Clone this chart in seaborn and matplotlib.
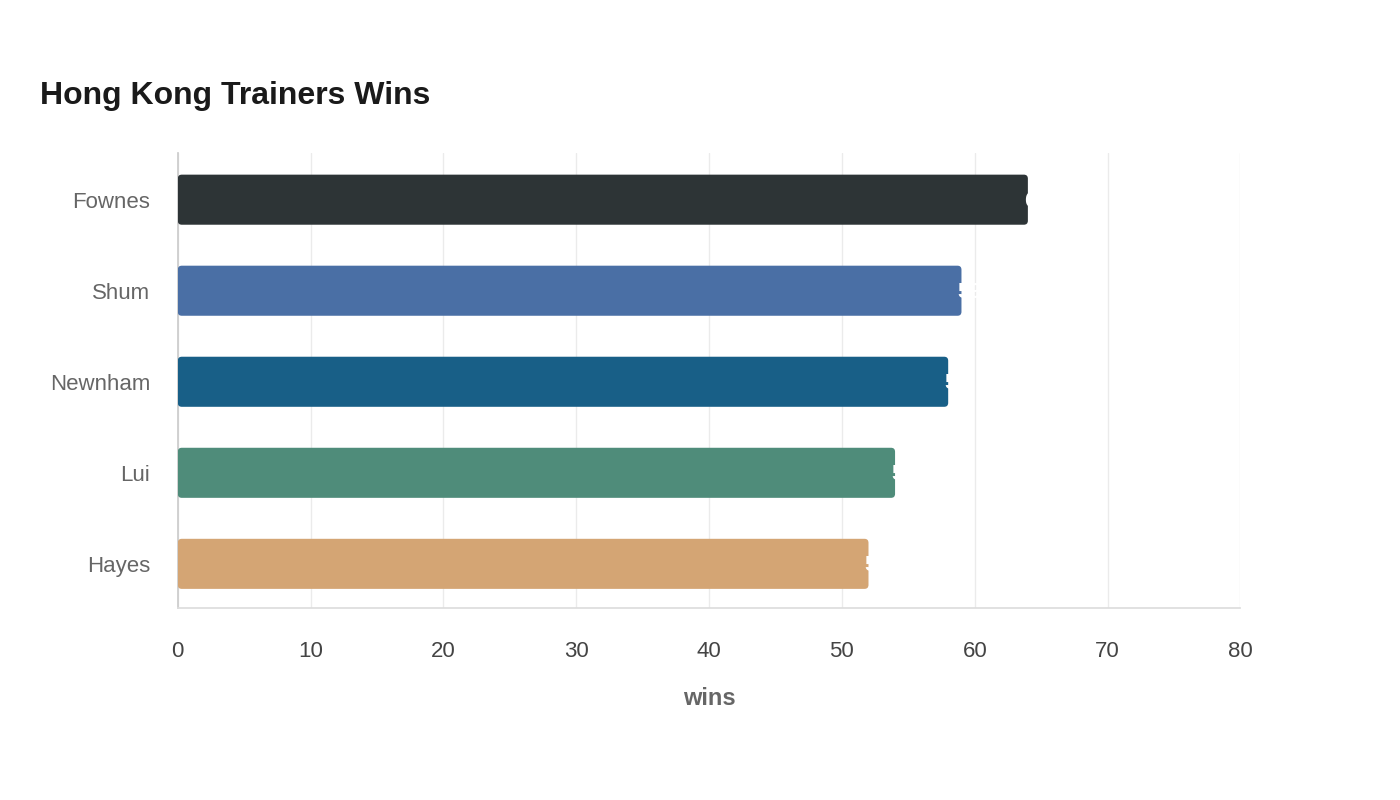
import matplotlib
matplotlib.use('Agg')
import matplotlib.pyplot as plt
import seaborn as sns
import pandas as pd
from matplotlib.patches import FancyBboxPatch

trainers = ['Fownes', 'Shum', 'Newnham', 'Lui', 'Hayes']
wins = [64, 59, 58, 54, 52]
colors = ['#2d3436', '#4a6fa5', '#185f87', '#4f8c7a', '#d4a574']

df = pd.DataFrame({'trainer': trainers, 'wins': wins})

sns.set_theme(style='white')
plt.rcParams['font.family'] = ['Liberation Sans', 'DejaVu Sans']

fig = plt.figure(figsize=(14, 8), dpi=100)
ax = fig.add_axes([0.127, 0.24, 0.759, 0.569])

sns.barplot(data=df, x='wins', y='trainer', hue='trainer', palette=colors,
            width=0.55, legend=False, ax=ax, zorder=3)

# rounded corners on bars
for patch, c in zip(list(ax.patches), colors):
    x0, y0 = patch.get_x(), patch.get_y()
    w, h = patch.get_width(), patch.get_height()
    patch.remove()
    fb = FancyBboxPatch((x0, y0), w, h,
                        boxstyle='round,pad=0,rounding_size=0.3',
                        mutation_aspect=0.147, facecolor=c, edgecolor='none',
                        zorder=3)
    ax.add_patch(fb)

# value labels (white, start at bar end)
for i, v in enumerate(wins):
    ax.annotate(f'{v}', xy=(v, i), xytext=(-3, -1), textcoords='offset points',
                ha='left', va='center', color='white', fontsize=16,
                fontweight='bold', zorder=4)

ax.set_xlim(0, 80)
ax.set_ylim(4.485, -0.515)
ax.set_xticks(range(0, 81, 10))
ax.grid(axis='x', color='#ebebeb', linewidth=1, zorder=0)
ax.grid(axis='y', visible=False)

for s in ['top', 'right']:
    ax.spines[s].set_visible(False)
ax.spines['left'].set_color('#cccccc')
ax.spines['bottom'].set_color('#dddddd')

ax.tick_params(axis='y', length=0, pad=20, labelsize=16, labelcolor='#666666')
ax.tick_params(axis='x', length=0, pad=24, labelsize=16, labelcolor='#444444')

ax.set_ylabel('')
ax.set_xlabel('wins', fontsize=17, fontweight='bold', color='#666666', labelpad=18)

fig.text(40 / 1400, 1 - 96 / 800, 'Hong Kong Trainers Wins', fontsize=23,
         fontweight='bold', color='#1a1a1a', ha='left', va='center')

fig.savefig('out.png', dpi=100)
